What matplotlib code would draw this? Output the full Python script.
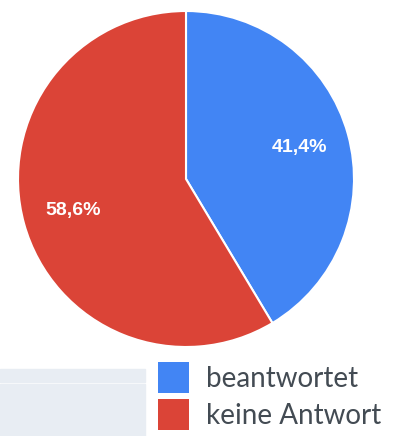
import matplotlib
matplotlib.use("Agg")
from matplotlib import pyplot as plt
from matplotlib.patches import Rectangle

labels = ["beantwortet", "keine Antwort"]
values = [41.4, 58.6]
colors = ["#4285F4", "#DB4437"]

W, H = 407, 436
fig = plt.figure(figsize=(W / 100, H / 100), dpi=100)

# pie area: centre (186, 179) px, radius 168 px
cx, cy, r = 186, 179, 168
ax = fig.add_axes([(cx - r) / W, 1 - (cy + r) / H, 2 * r / W, 2 * r / H])
wedges, texts, autotexts = ax.pie(
    values, colors=colors, startangle=90, counterclock=False, radius=1,
    autopct=lambda p: f"{p:.1f}%".replace(".", ","), pctdistance=0.7,
    wedgeprops=dict(edgecolor="white", linewidth=1.5),
    textprops=dict(color="white", fontsize=14, fontweight="bold",
                   family="Liberation Sans"))
ax.set_xlim(-1, 1)
ax.set_ylim(-1, 1)
ax.axis("off")

# grey panel remnants at bottom left
fig.patches.append(Rectangle((0, 1 - 382 / H), 145 / W, 13 / H,
                             transform=fig.transFigure, color="#e8edf3", zorder=0))
fig.patches.append(Rectangle((0, 0), 145 / W, 52 / H,
                             transform=fig.transFigure, color="#e8edf3", zorder=0))

fs = 20
leg = fig.legend(wedges, labels, loc="upper left",
                 bbox_to_anchor=(158 / W, 1 - 362 / H), frameon=False,
                 handlelength=1.12, handleheight=1.35,
                 handletextpad=0.6, labelspacing=0.2, borderpad=0,
                 borderaxespad=0, prop=dict(family="Lato", size=fs))
for t in leg.get_texts():
    t.set_color("#434b53")
for h in leg.legend_handles:
    h.set_edgecolor("none")

fig.savefig("out.png", dpi=100)
